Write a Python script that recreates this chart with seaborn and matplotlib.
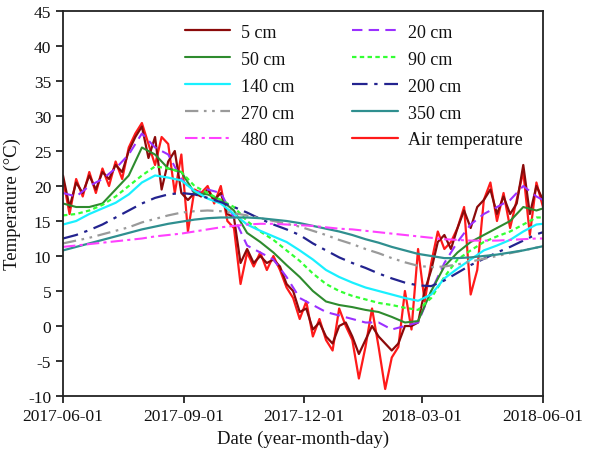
import numpy as np
import pandas as pd
import matplotlib
matplotlib.use("Agg")
import matplotlib.pyplot as plt
import matplotlib.dates as mdates
import seaborn as sns

# ---------------- data ----------------
start = pd.Timestamp("2017-06-01")
# 5-day sampling for the noisy near-surface series
days_5 = list(range(0, 366, 5))
# 10-day sampling for the smoother deep-soil series
days_10 = list(range(0, 361, 10)) + [365]

air_temp = [21, 16, 21, 18.5, 22, 19, 22.5, 20, 23.5, 21, 25.5, 27.5, 29, 26, 23, 27, 26, 19,
            24.5, 13.5, 19.5, 19, 20, 17.5, 20, 15, 14, 6, 10.5, 8.5, 10.5, 8, 10, 8, 5.5, 4,
            1, 3.5, -1.5, 1, -2, -3.5, 2.5, 0, -2, -7.5, -3, 2.5, -3, -9, -4.5, -3, 5, -0.5,
            11, 3.5, 9, 13.5, 11, 12, 14, 17, 4.5, 8, 18, 20.5, 15, 19, 14, 18, 22, 13, 20.5, 17]
t5 = [21.5, 17, 20.5, 19, 21.5, 19.5, 22, 21, 23, 22, 25, 27, 28.5, 24, 27, 19.5, 23.5, 25,
      19, 18, 19, 18.5, 19.5, 18, 19, 16, 15.5, 9, 11, 9, 10, 9, 9.5, 8.5, 6, 5,
      2, 2.5, -0.5, 0.5, -1.5, -2.5, 0, 0.5, -1.5, -4, -2, 0, -1.5, -2.5, -3.5, -2.5, 0, 0,
      0.5, 5, 8, 12, 13, 11, 14, 16.5, 14, 17, 18, 19.5, 16, 18.5, 16, 17.5, 23, 16, 20, 18]
t20 = [19, 18.5, 20, 21, 22.5, 24.5, 27.5, 25.5, 24.5, 21, 19, 19.5, 19, 15.5, 11.5, 10.5,
       9.5, 7, 4, 3, 2, 1.5, 1, 0.5, 0.5, -0.5, 0, 0.5, 5, 9, 12, 14.5, 16, 17, 18, 20, 18.5, 18]
t50 = [17.5, 17, 17, 17.5, 19.5, 21.5, 25.5, 24.5, 22.5, 22, 19, 18.8, 18, 16.5, 13.3, 12,
       10.5, 8.7, 7, 5, 3.5, 3, 2.7, 2.3, 2, 1.3, 0.5, 0.7, 5, 8.5, 10.5, 12, 13, 14, 15, 17,
       16.5, 16.8]
t90 = [15.8, 16, 16.5, 17.3, 18.5, 20, 21.5, 22.8, 22.5, 22, 20, 19, 18, 17, 15, 13.5, 12.3,
       10.8, 9.3, 7.5, 6, 5, 4.3, 3.8, 3.3, 3, 2.6, 2.3, 4, 7, 9.5, 10.8, 12, 12.8, 13.5, 14.5,
       15.5, 15.5]
t140 = [14.5, 15, 16, 16.8, 17.6, 18.8, 20.5, 21.5, 21.2, 20.8, 19.3, 18.2, 17.5, 16, 14.5,
        13.6, 12.8, 12, 10.8, 9.5, 8, 7, 6.2, 5.5, 5, 4.5, 4, 3.6, 4.5, 6.8, 8.2, 9.5, 10.8,
        11.5, 12.3, 13.5, 14.5, 14.6]
t200 = [12.5, 13, 13.7, 14.5, 15.5, 16.5, 17.5, 18.3, 18.8, 19, 18.8, 18.3, 17.7, 17, 16.2,
        15.3, 14.5, 13.8, 13, 11.8, 10.8, 9.8, 9, 8.3, 7.5, 6.8, 6.2, 5.8, 5.7, 6.5, 7.6, 8.7,
        9.6, 10.5, 11.3, 12.2, 13.1, 13.4]
t270 = [11.8, 12.2, 12.6, 13.1, 13.6, 14.1, 14.8, 15.3, 15.8, 16.2, 16.4, 16.5, 16.4, 16.1,
        15.8, 15.4, 15, 14.6, 14.2, 13.6, 13, 12.3, 11.7, 11, 10.4, 9.7, 9.1, 8.6, 8.4, 8.5,
        8.8, 9.2, 9.6, 10, 10.4, 10.8, 11.2, 11.3]
t350 = [10.8, 11.3, 11.8, 12.3, 12.8, 13.3, 13.8, 14.2, 14.6, 14.9, 15.2, 15.4, 15.5, 15.5,
        15.5, 15.4, 15.2, 15, 14.7, 14.3, 13.9, 13.5, 13, 12.4, 11.9, 11.3, 10.8, 10.3, 10,
        9.7, 9.7, 9.8, 10, 10.2, 10.5, 10.8, 11.2, 11.4]
t480 = [11.3, 11.5, 11.7, 11.9, 12.1, 12.3, 12.5, 12.8, 13, 13.2, 13.5, 13.8, 14.1, 14.3,
        14.5, 14.6, 14.6, 14.5, 14.4, 14.3, 14.1, 13.9, 13.8, 13.6, 13.4, 13.2, 13, 12.8,
        12.6, 12.4, 12.3, 12.2, 12.2, 12.2, 12.3, 12.4, 12.5, 12.5]

dates_5 = start + pd.to_timedelta(days_5, unit="D")
dates_10 = start + pd.to_timedelta(days_10, unit="D")

# ---------------- figure ----------------
sns.set_style("ticks")
plt.rcParams["font.family"] = ["Liberation Serif", "DejaVu Serif"]
plt.rcParams["axes.unicode_minus"] = False

fig = plt.figure(figsize=(5.9, 4.64), dpi=100)
ax = fig.add_axes([63 / 590, 1 - 397 / 464, 480 / 590, 385 / 464])

series = [
    ("Air temperature", dates_5, air_temp, "#ff1a1a", None, 1.6),
    ("5 cm", dates_5, t5, "#8b0a0a", None, 1.6),
    ("20 cm", dates_10, t20, "#9b30ff", (5, 3), 1.5),
    ("50 cm", dates_10, t50, "#2e8b2e", None, 1.5),
    ("90 cm", dates_10, t90, "#33ff33", (2, 1.5), 1.6),
    ("140 cm", dates_10, t140, "#19f0ff", None, 1.6),
    ("200 cm", dates_10, t200, "#23238f", (7, 3, 1.5, 3), 1.6),
    ("270 cm", dates_10, t270, "#9a9a9a", (6, 2.5, 1.2, 2.5, 1.2, 2.5), 1.6),
    ("350 cm", dates_10, t350, "#2f8f8f", None, 1.6),
    ("480 cm", dates_10, t480, "#ff40ff", (6, 2, 1.5, 2), 1.5),
]

handles = {}
for name, d, v, col, dash, lw in series:
    df = pd.DataFrame({"date": d, "T": v})
    sns.lineplot(data=df, x="date", y="T", ax=ax, color=col, linewidth=lw)
    line = ax.lines[-1]
    if dash is not None:
        line.set_dashes(dash)
    handles[name] = line

ax.set_xlim(pd.Timestamp("2017-06-01"), pd.Timestamp("2018-06-01"))
ax.set_ylim(-10, 45)
ax.set_yticks(np.arange(-10, 46, 5))
xt = pd.to_datetime(["2017-06-01", "2017-09-01", "2017-12-01", "2018-03-01", "2018-06-01"])
ax.set_xticks(xt)
ax.xaxis.set_major_formatter(mdates.DateFormatter("%Y-%m-%d"))
ax.tick_params(axis="both", direction="out", length=5, width=1.2, labelsize=12.5,
               colors="#111111")
for s in ax.spines.values():
    s.set_visible(True)
    s.set_linewidth(1.3)
    s.set_color("#222222")

ax.set_xlabel("Date (year-month-day)", fontsize=13.5, labelpad=4, color="#111111")
ax.set_ylabel("Temperature (°C)", fontsize=13.5, labelpad=5, color="#111111")

order = ["5 cm", "50 cm", "140 cm", "270 cm", "480 cm",
         "20 cm", "90 cm", "200 cm", "350 cm", "Air temperature"]
leg = ax.legend([handles[k] for k in order], order, ncol=2, loc="upper left",
                bbox_to_anchor=(0.232, 0.995), frameon=False, fontsize=13,
                handlelength=2.5, handletextpad=0.6, columnspacing=3.2,
                labelspacing=0.55, borderaxespad=0.2)
for t in leg.get_texts():
    t.set_color("#111111")

fig.savefig("out.png", dpi=100)
